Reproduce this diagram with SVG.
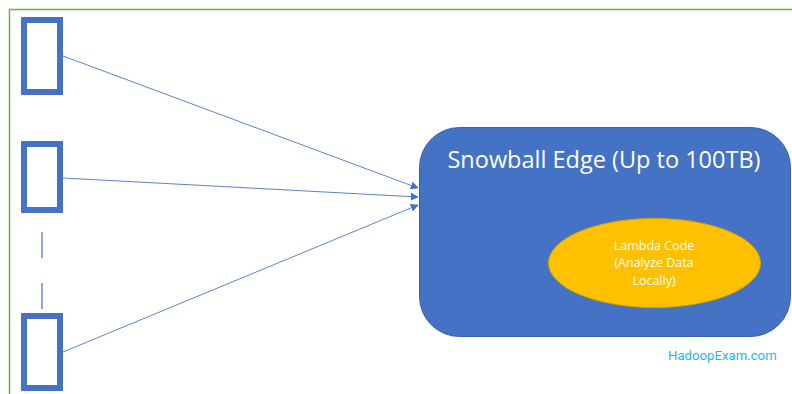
<svg xmlns="http://www.w3.org/2000/svg" width="792" height="394" viewBox="0 0 792 394">
  <style>
    .frame { fill: none; stroke: #70AD47; stroke-width: 1.5; }
    .device { fill: #FFFFFF; stroke: #4472C4; stroke-width: 6; }
    .link { fill: none; stroke: #5B84CF; stroke-width: 1; marker-end: url(#arrow); }
    .dash { fill: none; stroke: #8FAADC; stroke-width: 2; stroke-dasharray: 26 25; }
    .title { font-family: "Open Sans", "Noto Sans", sans-serif; font-size: 23.5px; fill: #FFFFFF; text-anchor: middle; }
    .small { font-family: "Open Sans", "Noto Sans", sans-serif; font-size: 12.5px; fill: #FFFFFF; text-anchor: middle; }
    .brand { font-family: "Roboto", "Noto Sans", sans-serif; font-size: 13.2px; fill: #29B6F0; }
  </style>
  <defs>
    <marker id="arrow" viewBox="0 0 10 10" refX="9" refY="5" markerWidth="8" markerHeight="8" markerUnits="userSpaceOnUse" orient="auto">
      <path d="M0,0 L10,5 L0,10 z" fill="#4472C4"/>
    </marker>
  </defs>

  <rect width="792" height="394" fill="#FFFFFF"/>
  <!-- page frame -->
  <path class="frame" d="M9.5,394 V9.5 H792"/>

  <g id="device-1"><rect class="device" x="24" y="20" width="36" height="72"/></g>
  <g id="device-2"><rect class="device" x="24" y="144" width="36" height="66"/></g>
  <g id="device-n"><rect class="device" x="24" y="316" width="36" height="72"/></g>

  <g id="connectors">
    <line class="dash" x1="42" y1="232" x2="42" y2="309"/>
    <line class="link" x1="63" y1="56" x2="418" y2="188"/>
    <line class="link" x1="63" y1="178" x2="418" y2="197"/>
    <line class="link" x1="63" y1="352" x2="418" y2="205"/>
  </g>

  <g id="snowball-edge">
    <rect x="419.5" y="127.5" width="371" height="209" rx="40" ry="40" fill="#4472C4" stroke="#3A62A8" stroke-width="1"/>
    <text class="title" x="604" y="168">Snowball Edge (Up to 100TB)</text>
  </g>

  <g id="lambda-code">
    <ellipse cx="654.5" cy="263" rx="106" ry="44.5" fill="#FFC000" stroke="#D9A300" stroke-width="1"/>
    <text class="small" x="654" y="250">Lambda Code</text>
    <text class="small" x="654" y="267">(Analyze Data</text>
    <text class="small" x="654" y="285">Locally)</text>
  </g>

  <text class="brand" x="668" y="360">HadoopExam.com</text>
</svg>
